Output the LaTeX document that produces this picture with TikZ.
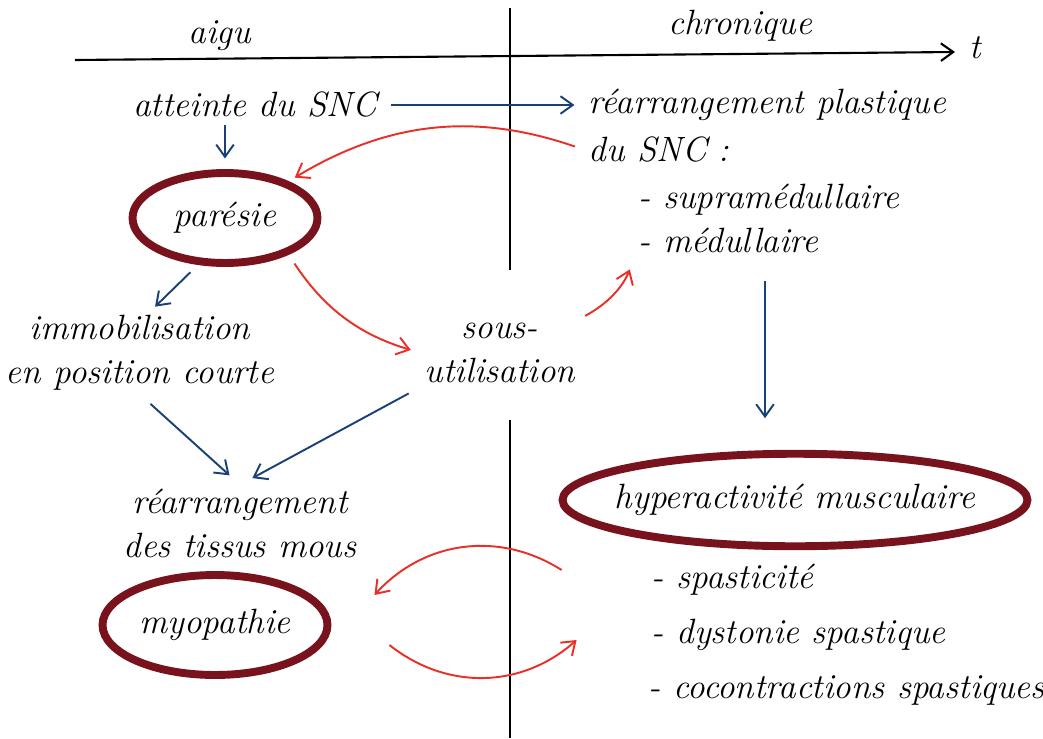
\documentclass[tikz,border=0pt]{standalone}
\usetikzlibrary{arrows.meta,shapes.geometric}
\definecolor{inkblue}{RGB}{25,65,120}
\definecolor{inkred}{RGB}{232,48,40}
\definecolor{wine}{RGB}{120,18,28}
\begin{document}
\begin{tikzpicture}[x=0.02cm,y=0.02cm,
		every node/.style={font=\fontsize{20}{25}\selectfont\itshape},
		txt/.style={align=center, inner sep=2pt},
		item/.style={anchor=west, inner sep=2pt},
		ring/.style={ellipse, draw=wine, line width=4.5pt, inner sep=0pt},
		bluearr/.style={draw=inkblue, line width=1.1pt, -{Straight Barb[length=7pt,width=10pt]}},
		redarr/.style={draw=inkred, line width=1.1pt, -{Straight Barb[length=7pt,width=10pt]}}]
	\useasboundingbox (0,0) rectangle (1043,738);

	% Axe du temps
	\draw[line width=1.2pt, -{Straight Barb[length=7pt,width=10pt]}] (75,678) -- (955,686);
	\node (t) at (975,690) {t};
	\node (aigu) at (220,702) {aigu};
	\node (chron) at (740,712) {chronique};
	\draw[line width=1pt] (510,730) -- (510,468);
	\draw[line width=1pt] (510,318) -- (510,0);

	% Haut
	\node[txt] (snc) at (255,633) {atteinte du SNC};
	\node[item] (plast) at (585,633) {réarrangement plastique};
	\node[item] (plastb) at (585,588) {du SNC :};
	\node[item] (supra) at (635,538) {- supramédullaire};
	\node[item] (medul) at (635,498) {- médullaire};
	\node[ring, minimum width=3.7cm, minimum height=1.8cm] (paresie) at (225,520) {\makebox[0pt]{parésie}};

	% Milieu
	\node[txt] (immob) at (140,385) {immobilisation\\en position courte};
	\node[txt] (sous) at (500,385) {sous-\\utilisation};
	\node[txt] (tissus) at (240,215) {réarrangement\\des tissus mous};
	\node[ring, minimum width=9.3cm, minimum height=1.85cm] (hyper) at (795,238) {\makebox[0pt]{hyperactivité musculaire}};

	% Bas
	\node[ring, minimum width=4.5cm, minimum height=2cm] (myo) at (215,113) {\makebox[0pt]{myopathie}};
	\node[item] (spas) at (648,158) {- spasticité};
	\node[item] (dyst) at (648,103) {- dystonie spastique};
	\node[item] (cocon) at (645,48) {- cocontractions spastiques};

	% Fleches
	\draw[bluearr, shorten <=6pt, shorten >=6pt] (snc.east) -- (plast.west);
	\draw[bluearr, shorten <=2pt, shorten >=6pt] (paresie.north |- snc.south) -- (paresie.north);
	\draw[redarr, shorten <=6pt, shorten >=4pt] (plastb.west) to[bend right=25] (paresie.30);
	\draw[bluearr, shorten <=6pt, shorten >=4pt] (paresie.-120) -- ([shift={(10,0)}]immob.north);
	\draw[redarr, shorten <=6pt, shorten >=6pt] (paresie.-30) to[bend right=20] (sous.west);
	\draw[redarr, shorten <=4pt, shorten >=8pt] (sous.north east) to[bend right=20] (medul.south west);
	\coordinate (hyptop) at ([shift={(-30,0)}]hyper.north);
	\draw[bluearr, shorten <=14pt, shorten >=18pt] (medul.south -| hyptop) -- (hyptop);
	\draw[bluearr, shorten <=8pt, shorten >=8pt] (immob.south) -- (tissus.north);
	\draw[bluearr, shorten <=8pt, shorten >=8pt] (sous.south west) -- (tissus.north);
	\coordinate (hypout) at ([shift={(3,-70)}]hyper.west);
	\coordinate (hypin) at ([shift={(18,-140)}]hyper.west);
	\coordinate (myoin) at ([shift={(43,30)}]myo.east);
	\coordinate (myoout) at ([shift={(58,-20)}]myo.east);
	\draw[redarr] (hypout) to[bend right=40] (myoin);
	\draw[redarr] (myoout) to[bend right=40] (hypin);
\end{tikzpicture}
\end{document}
